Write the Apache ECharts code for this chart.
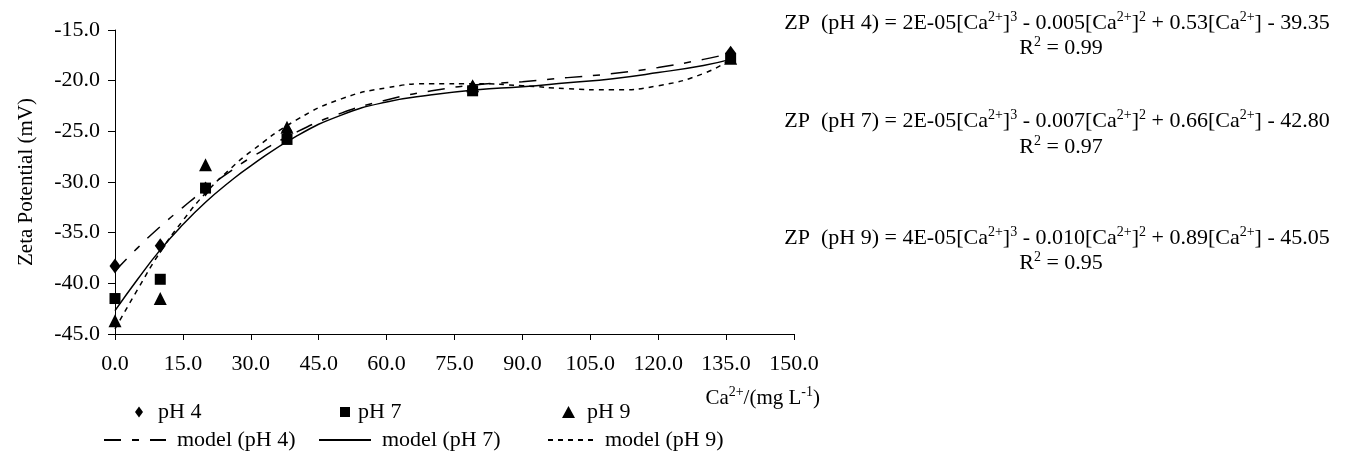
<!DOCTYPE html>
<html style="height:100%;width:100%;">
<head>
  <meta charset="utf-8">
  <title>Zeta potential vs Ca2+</title>
  <script src="https://cdn.jsdelivr.net/npm/echarts@6/dist/echarts.min.js"></script>
</head>
<body style="margin:0px;height:100%;width:100%;background:#fff;">
  <div id="main" style="width:1358px;height:454px"></div>
  <script type="text/javascript">
    // measured points
    var caX = [0, 10, 20, 38, 79, 136];
    var ph4 = [-38.3, -36.3, -30.7, -25.0, -20.7, -17.3];
    var ph7 = [-41.5, -39.6, -30.6, -25.8, -21.0, -17.8];
    var ph9 = [-43.7, -41.5, -28.3, -24.6, -20.5, -17.8];

    // fitted model curves
    var modelX = [0, 5, 10, 15, 20, 25, 30, 40, 50, 60, 70, 80, 90, 100, 110, 120, 130, 136];
    var model4 = [-38.8, -36.5, -34.4, -32.5, -30.7, -29.1, -27.6, -25.1, -23.2, -21.9, -21.0, -20.4, -20.1, -19.7, -19.3, -18.7, -17.9, -17.3];
    var model7 = [-42.7, -39.6, -36.7, -34.2, -32.0, -30.1, -28.4, -25.5, -23.4, -22.1, -21.4, -20.9, -20.6, -20.2, -19.8, -19.2, -18.5, -17.9];
    var model9 = [-44.5, -40.6, -36.9, -33.8, -31.1, -28.9, -27.0, -23.9, -21.8, -20.7, -20.3, -20.3, -20.5, -20.8, -20.9, -20.5, -19.3, -17.9];

    var eqLines = [
      'ZP  (pH 4) = 2E-05[Ca{s|2+}]{s|3} - 0.005[Ca{s|2+}]{s|2} + 0.53[Ca{s|2+}] - 39.35',
      'R{s|2} = 0.99',
      'ZP  (pH 7) = 2E-05[Ca{s|2+}]{s|3} - 0.007[Ca{s|2+}]{s|2} + 0.66[Ca{s|2+}] - 42.80',
      'R{s|2} = 0.97',
      'ZP  (pH 9) = 4E-05[Ca{s|2+}]{s|3} - 0.010[Ca{s|2+}]{s|2} + 0.89[Ca{s|2+}] - 45.05',
      'R{s|2} = 0.95'
    ];
    var eqY = [23, 48, 121, 147, 238, 263];

    var font = 'Liberation Serif';
    var myChart = echarts.init(document.getElementById('main'));

    function pairs(xs, ys) {
      var res = [];
      for (var i = 0; i < xs.length; i++) res.push([xs[i], ys[i]]);
      return res;
    }

    var supRich = {
      s: { fontFamily: font, fontSize: 14, padding: [0, 0, 12, 0], color: '#000' }
    };

    var graphics = [];
    for (var i = 0; i < eqLines.length; i++) {
      graphics.push({
        type: 'text',
        x: i % 2 ? 1061 : 1057,
        y: eqY[i],
        style: {
          text: eqLines[i],
          fontFamily: font,
          fontSize: 22,
          fill: '#000',
          align: 'center',
          verticalAlign: 'middle',
          rich: supRich
        }
      });
    }

    function legendItem(name, left, top, w, h, icon, padLeft) {
      var lg = {
        data: [name],
        left: left,
        top: top,
        orient: 'horizontal',
        itemWidth: w,
        itemHeight: h,
        padding: 0,
        selectedMode: false,
        textStyle: { fontFamily: font, fontSize: 22, color: '#000', padding: [0, 0, 0, padLeft] }
      };
      if (icon) lg.icon = icon;
      else lg.itemStyle = { opacity: 0 }; // hide the symbol drawn on line icons
      return lg;
    }

    var lineBase = { color: '#000', width: 1.5 };

    option = {
      animation: false,
      backgroundColor: '#fff',
      grid: { left: 115, right: 564, top: 30, bottom: 120 },
      legend: [
        legendItem('pH 4', 135, 401, 8, 11, 'diamond', 10),
        legendItem('pH 7', 340, 401, 10, 10, 'rect', 3),
        legendItem('pH 9', 562, 401, 13, 12, 'triangle', 7),
        legendItem('model (pH 4)', 103, 429, 62, 14, null, 6),
        legendItem('model (pH 7)', 318, 429, 52, 14, null, 6),
        legendItem('model (pH 9)', 547, 429, 45, 14, null, 7)
      ],
      xAxis: {
        type: 'value',
        min: 0,
        max: 150,
        interval: 15,
        name: 'Ca{s|2+}/(mg L{s|-1})',
        nameLocation: 'end',
        nameGap: 26,
        nameTextStyle: {
          fontFamily: font, fontSize: 21, color: '#000',
          align: 'right', verticalAlign: 'top', padding: [51, 0, 0, 0],
          rich: supRich
        },
        axisLine: { show: true, onZero: false, lineStyle: { color: '#000', width: 1 } },
        axisTick: { show: true, inside: false, length: 6, lineStyle: { color: '#000' } },
        axisLabel: {
          fontFamily: font, fontSize: 22, color: '#000', margin: 19,
          formatter: function (v) { return v.toFixed(1); }
        },
        splitLine: { show: false }
      },
      yAxis: {
        type: 'value',
        min: -45,
        max: -15,
        interval: 5,
        name: 'Zeta Potential (mV)',
        nameLocation: 'middle',
        nameGap: 78,
        nameTextStyle: { fontFamily: font, fontSize: 21, color: '#000' },
        axisLine: { show: true, onZero: false, lineStyle: { color: '#000', width: 1 } },
        axisTick: { show: true, inside: false, length: 7, lineStyle: { color: '#000' } },
        axisLabel: {
          fontFamily: font, fontSize: 22, color: '#000', margin: 15,
          formatter: function (v) { return v.toFixed(1); }
        },
        splitLine: { show: false }
      },
      graphic: graphics,
      series: [
        {
          name: 'model (pH 4)', type: 'line', smooth: true, symbol: 'none', z: 2,
          lineStyle: Object.assign({ type: [17, 11, 7, 11] }, lineBase),
          itemStyle: { color: '#000' },
          data: pairs(modelX, model4)
        },
        {
          name: 'model (pH 7)', type: 'line', smooth: true, symbol: 'none', z: 2,
          lineStyle: Object.assign({ type: 'solid' }, lineBase),
          itemStyle: { color: '#000' },
          data: pairs(modelX, model7)
        },
        {
          name: 'model (pH 9)', type: 'line', smooth: true, symbol: 'none', z: 2,
          lineStyle: Object.assign({ type: [5, 5] }, lineBase),
          itemStyle: { color: '#000' },
          data: pairs(modelX, model9)
        },
        {
          name: 'pH 4', type: 'scatter', symbol: 'diamond', symbolSize: [11, 15], z: 3,
          itemStyle: { color: '#000', opacity: 1 },
          data: pairs(caX, ph4)
        },
        {
          name: 'pH 7', type: 'scatter', symbol: 'rect', symbolSize: 11, z: 3,
          itemStyle: { color: '#000', opacity: 1 },
          data: pairs(caX, ph7)
        },
        {
          name: 'pH 9', type: 'scatter', symbol: 'triangle', symbolSize: [13, 13], z: 3,
          itemStyle: { color: '#000', opacity: 1 },
          data: pairs(caX, ph9)
        }
      ]
    };

    myChart.setOption(option);
  </script>
</body>
</html>
